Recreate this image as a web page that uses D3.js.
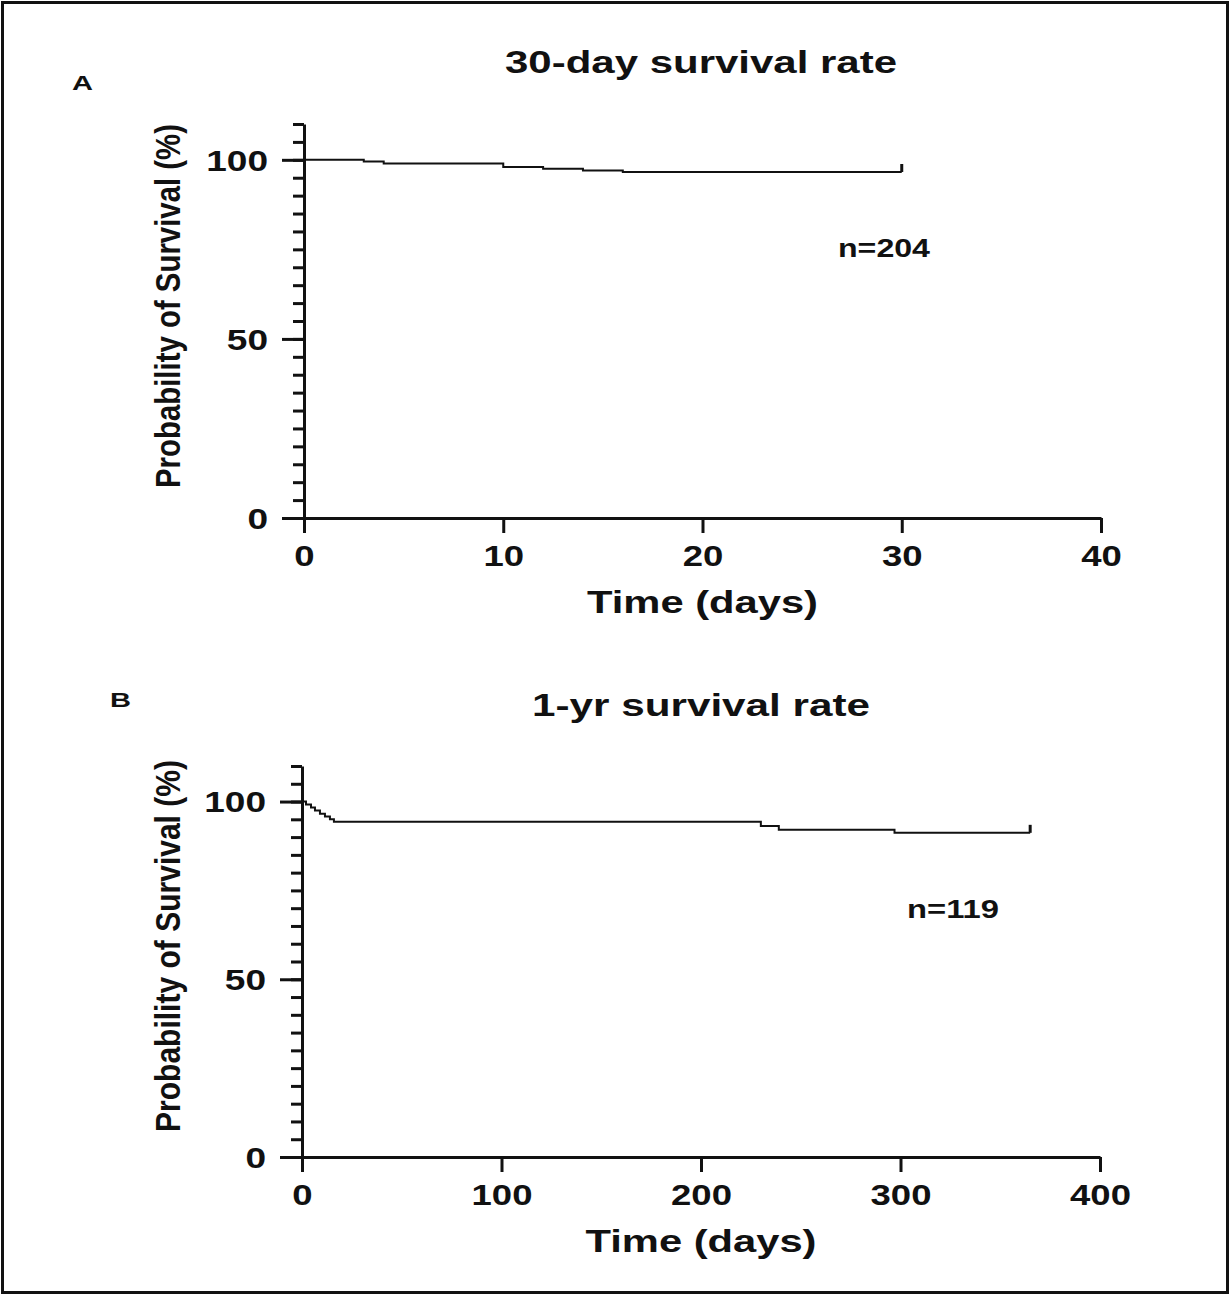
<!DOCTYPE html>
<html lang="en">
<head>
<meta charset="UTF-8">
<title>Survival curves</title>
<script src="https://d3js.org/d3.v7.min.js"></script>
<style>
    body { margin: 0; background: white; }
    svg text { font-family: "Liberation Sans", Arial, sans-serif; font-weight: bold; fill: #111; }
    .axis path, .axis line { stroke: #111; stroke-width: 3; }
    .curve { fill: none; stroke: #111; stroke-width: 2; }
</style>
</head>
<body>
<svg width="1230" height="1295"></svg>
<script>
    // panel A: 30-day survival
    const timesA = [0, 3, 4, 10, 12, 14, 16, 30];
    const survA = [100, 99.5, 99.0, 98.0, 97.5, 97.0, 96.6, 96.6];
    const xTicksA = [0, 10, 20, 30, 40];

    // panel B: 1-yr survival
    const timesB = [0, 2, 4.5, 6.5, 9, 11.5, 14, 16, 230, 239, 297, 365];
    const survB = [100, 99.2, 98.3, 97.5, 96.6, 95.8, 95.0, 94.3, 93.1, 92.1, 91.2, 91.2];
    const xTicksB = [0, 100, 200, 300, 400];

    const yTicks = [0, 50, 100];
    const yMinor = d3.range(0, 111, 5);

    const svg = d3.select("svg");

    // outer frame
    svg.append("rect")
        .attr("x", 2.5).attr("y", 2.5)
        .attr("width", 1225).attr("height", 1290)
        .attr("fill", "none").attr("stroke", "#111").attr("stroke-width", 3);

    // text stretched horizontally like the original figure
    function label(x, y, str, size, len, anchor) {
        return svg.append("text")
            .attr("x", x).attr("y", y)
            .attr("font-size", size)
            .attr("text-anchor", anchor || "middle")
            .attr("textLength", len)
            .attr("lengthAdjust", "spacingAndGlyphs")
            .text(str);
    }

    const panels = [
        { letter: "A", lx: 72, ly: 90, title: "30-day survival rate", ty: 73, tlen: 392,
          xr: [304, 1101], yr: [518, 124], xmax: 40, xt: xTicksA,
          t: timesA, s: survA, n: "n=204", nx: 838, ny: 257, ylab: 306, ylen: 364 },
        { letter: "B", lx: 110, ly: 707, title: "1-yr survival rate", ty: 716, tlen: 338,
          xr: [302, 1100], yr: [1157, 766], xmax: 400, xt: xTicksB,
          t: timesB, s: survB, n: "n=119", nx: 907, ny: 918, ylab: 946, ylen: 372 }
    ];

    panels.forEach(p => {
        const x = d3.scaleLinear().domain([0, p.xmax]).range(p.xr);
        const y = d3.scaleLinear().domain([0, 110]).range(p.yr);

        // minor y ticks
        svg.append("g").attr("class", "axis")
            .attr("transform", `translate(${p.xr[0]},0)`)
            .call(d3.axisLeft(y).tickValues(yMinor).tickSize(11).tickSizeOuter(0).tickFormat(""))
            .call(g => g.select(".domain").remove());

        // major y ticks + labels
        const ya = svg.append("g").attr("class", "axis")
            .attr("transform", `translate(${p.xr[0]},0)`)
            .call(d3.axisLeft(y).tickValues(yTicks).tickSize(22).tickSizeOuter(0).tickPadding(14));
        ya.selectAll("text")
            .attr("font-size", 30)
            .attr("dy", "0.34em")
            .attr("textLength", d => String(d).length * 20.6)
            .attr("lengthAdjust", "spacingAndGlyphs");
        ya.attr("font-family", null).attr("font-size", null);

        // x axis
        const xa = svg.append("g").attr("class", "axis")
            .attr("transform", `translate(0,${p.yr[0]})`)
            .call(d3.axisBottom(x).tickValues(p.xt).tickSize(15).tickSizeOuter(0).tickPadding(12));
        xa.selectAll("text")
            .attr("font-size", 30)
            .attr("textLength", d => String(d).length * 20.3)
            .attr("lengthAdjust", "spacingAndGlyphs");
        xa.attr("font-family", null).attr("font-size", null);

        // survival step curve
        const pts = p.t.map((d, i) => [d, p.s[i]]);
        svg.append("path")
            .attr("class", "curve")
            .attr("d", d3.line().x(d => x(d[0])).y(d => y(d[1])).curve(d3.curveStepAfter)(pts));

        // censor tick at the end
        const last = pts[pts.length - 1];
        svg.append("line")
            .attr("x1", x(last[0])).attr("x2", x(last[0]))
            .attr("y1", y(last[1])).attr("y2", y(last[1]) - 8)
            .attr("stroke", "#111").attr("stroke-width", 3);

        // texts
        label(p.lx, p.ly, p.letter, 21, 21, "start");
        label(701, p.ty, p.title, 32, p.tlen);
        label((p.xr[0] + p.xr[1]) / 2, p.yr[0] + 95, "Time (days)", 31, 231);
        label(p.nx, p.ny, p.n, 25, 92, "start");

        svg.append("text")
            .attr("transform", `translate(180,${p.ylab}) rotate(-90)`)
            .attr("font-size", 35)
            .attr("text-anchor", "middle")
            .attr("textLength", p.ylen)
            .attr("lengthAdjust", "spacingAndGlyphs")
            .text("Probability of Survival (%)");
    });
</script>
</body>
</html>
